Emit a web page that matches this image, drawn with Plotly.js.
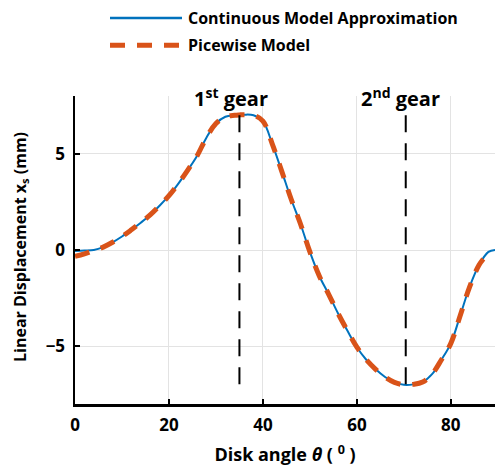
<!DOCTYPE html>
<html><head><meta charset="utf-8">
<script src="https://cdn.plot.ly/plotly-3.0.1.min.js"></script>
<style>html,body{margin:0;padding:0;background:#fff}</style>
</head><body><div id="chart" style="width:495px;height:471px"></div>
<script>
// Disk angle (deg) and linear displacement (mm)
const contAngle = [0,2,4,6,8,10,12,14,16,18,20,22,24,26,28,30,32,34,35,36,38,40,42,44,46,48,50,52,54,56,58,60,62,64,66,68,70,72,74,76,78,80,82,84,86,88,89.4];
const contDisp  = [-0.05,-0.03,0.0,0.15,0.4,0.7,1.05,1.42,1.82,2.3,2.82,3.45,4.15,4.9,5.85,6.57,6.92,7.0,7.02,7.03,7.0,6.7,5.5,4.1,2.65,1.35,-0.1,-1.35,-2.3,-3.3,-4.2,-5.05,-5.7,-6.2,-6.6,-6.88,-7.0,-6.98,-6.86,-6.45,-5.7,-4.85,-3.4,-1.91,-0.78,-0.1,0.0];
const pieceAngle = [0,2,4,6,8,10,12,14,16,18,20,22,24,26,28,30,32,34,35,36,38,40,42,44,46,48,50,52,54,56,58,60,62,64,66,68,70,72,74,76,78,80,82,84,86,87.5];
const pieceDisp  = [-0.33,-0.2,-0.02,0.15,0.4,0.7,1.05,1.42,1.82,2.3,2.82,3.45,4.15,4.9,5.85,6.57,6.92,7.0,7.02,7.03,7.0,6.7,5.5,4.1,2.65,1.35,-0.1,-1.35,-2.3,-3.3,-4.2,-5.05,-5.7,-6.2,-6.6,-6.88,-7.0,-6.98,-6.86,-6.45,-5.7,-4.85,-3.4,-1.91,-0.78,-0.3];
const gearAngles = [35, 70.4];
const gearSpan = [-7, 7];
const gearLabels = ["1<sup>st</sup> gear", "2<sup>nd</sup> gear"];
const gearLabelX = [33.2, 69.2];
const seriesNames = ["Continuous Model Approximation", "Picewise Model"];
const xTitle = "Disk angle <i>θ</i> ( <sup>0</sup> )";
const yTitle = "Linear Displacement x<sub>s</sub> (mm)";
const xTicks = [0,20,40,60,80];
const yTicks = [-5,0,5];

const BLUE = "#0072BD", ORANGE = "#D95319";
const FONT = "Open Sans, Noto Sans, sans-serif";

const traces = [
  {x: contAngle, y: contDisp, mode: "lines", name: seriesNames[0], line: {color: BLUE, width: 2, shape: "spline"}, showlegend: false},
  {x: pieceAngle, y: pieceDisp, mode: "lines", name: seriesNames[1], line: {color: ORANGE, width: 5, dash: "15px,12px", shape: "spline"}, showlegend: false}
];
gearAngles.forEach(a => traces.push({x: [a, a], y: [gearSpan[1], gearSpan[0]], mode: "lines", line: {color: "#000", width: 2, dash: "17px,11px"}, showlegend: false, hoverinfo: "skip"}));

const annotations = gearLabels.map((t, i) => ({x: gearLabelX[i], y: 7.92, xref: "x", yref: "y", text: t, showarrow: false, yanchor: "middle", font: {family: FONT, size: 20, color: "#000", weight: "bold"}}));
// y-axis title as a rotated annotation (centred on the plot height)
annotations.push({x: (20-75)/420, y: (404-247)/308, xref: "paper", yref: "paper", text: yTitle, textangle: -90, showarrow: false, xanchor: "center", yanchor: "middle", font: {family: FONT, size: 16, color: "#000", weight: "bold"}});
// legend (drawn manually to match sample length)
const legY = [1.253, 1.165];
const shapes = [
  {type: "line", xref: "paper", yref: "paper", x0: (110-75)/420, x1: (182-75)/420, y0: legY[0], y1: legY[0], line: {color: BLUE, width: 2.5}},
  {type: "line", xref: "paper", yref: "paper", x0: (110-75)/420, x1: (182-75)/420, y0: legY[1], y1: legY[1], line: {color: ORANGE, width: 5, dash: "15px,12px"}}
];
seriesNames.forEach((n, i) => annotations.push({x: (186-75)/420, y: legY[i], xref: "paper", yref: "paper", text: n, showarrow: false, xanchor: "left", yanchor: "middle", font: {family: FONT, size: 16, color: "#000", weight: "bold"}}));

const layout = {
  width: 495, height: 471,
  margin: {l: 75, r: 0, t: 96, b: 67},
  paper_bgcolor: "#fff", plot_bgcolor: "#fff",
  font: {family: FONT, color: "#000"},
  xaxis: {range: [0, 89.4], tickvals: xTicks, showgrid: true, gridcolor: "#e3e3e3", gridwidth: 1, zeroline: false,
    showline: true, linecolor: "#000", linewidth: 2.5, ticks: "inside", ticklen: 5, tickwidth: 2, tickcolor: "#000",
    tickfont: {size: 17, family: FONT, weight: "bold"}, ticklabelstandoff: 4,
    title: {text: xTitle, font: {size: 18, family: FONT, weight: "bold"}, standoff: 14}},
  yaxis: {range: [-8, 8], tickvals: yTicks, showgrid: true, gridcolor: "#e3e3e3", gridwidth: 1, zeroline: false,
    showline: true, linecolor: "#000", linewidth: 2.5, ticks: "inside", ticklen: 5, tickwidth: 2, tickcolor: "#000",
    tickfont: {size: 17, family: FONT, weight: "bold"}, ticklabelstandoff: 4},
  annotations: annotations,
  shapes: shapes,
  showlegend: false
};
Plotly.newPlot("chart", traces, layout, {displayModeBar: false, staticPlot: true});
</script></body></html>
